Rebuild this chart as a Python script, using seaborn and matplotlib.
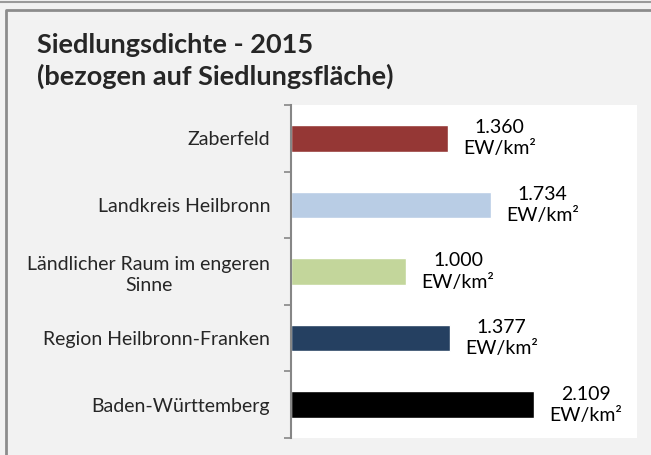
import matplotlib
matplotlib.use("Agg")
import matplotlib.pyplot as plt
from matplotlib.lines import Line2D
import seaborn as sns
import pandas as pd

categories = ['Zaberfeld', 'Landkreis Heilbronn', 'Ländlicher Raum im engeren\nSinne',
              'Region Heilbronn-Franken', 'Baden-Württemberg']
values = [1360, 1734, 1000, 1377, 2109]
value_labels = ['1.360', '1.734', '1.000', '1.377', '2.109']
colors = ['#953735', '#b9cde5', '#c3d69b', '#254061', '#000000']


def generate_barchart():
    sns.set_style("white")
    plt.rcParams['font.family'] = ['Lato', 'DejaVu Sans']

    df = pd.DataFrame({'Gebiet': categories, 'Dichte': values})

    fig = plt.figure(figsize=(6.51, 4.55), dpi=100)
    fig.patch.set_facecolor('#f2f2f2')
    ax = fig.add_axes([291 / 651, 1 - 438 / 455, (637 - 291) / 651, (438 - 105) / 455])

    sns.barplot(data=df, x='Dichte', y='Gebiet', hue='Gebiet', palette=colors,
                orient='h', width=0.4, legend=False, ax=ax, saturation=1)

    for i, (v, lab) in enumerate(zip(values, value_labels)):
        ax.annotate(lab + '\nEW/km²', xy=(v, i), xytext=(11, 0), textcoords='offset points',
                    ha='left', va='center', multialignment='center', fontsize=14,
                    linespacing=1.3, color='#000000')

    ax.set_xlim(0, 3000)
    ax.set_ylim(4.5, -0.5)
    ax.set_xlabel('')
    ax.set_ylabel('')
    ax.set_xticks([])
    ax.set_yticks(range(len(categories)))
    ax.set_yticklabels(categories, fontsize=14, multialignment='center', linespacing=1.3)
    ax.tick_params(axis='y', which='major', length=0, pad=15)
    ax.set_yticks([i - 0.5 for i in range(len(categories) + 1)], minor=True)
    ax.tick_params(axis='y', which='minor', left=True, length=5, width=1.2,
                   color='#868686', direction='out')
    for s in ['top', 'right', 'bottom']:
        ax.spines[s].set_visible(False)
    ax.spines['left'].set_color('#868686')
    ax.spines['left'].set_linewidth(1.5)

    # Rahmen
    fig.add_artist(Line2D([0, 1], [1 - 1.5 / 455, 1 - 1.5 / 455], color='#9a9a9a', lw=1.5))
    fig.add_artist(Line2D([6 / 651, 6 / 651, 1], [0, 1 - 10 / 455, 1 - 10 / 455], color='#8c8c8c', lw=2))

    fig.text(37 / 651, 1 - 33 / 455, 'Siedlungsdichte - 2015\n(bezogen auf Siedlungsfläche)',
             ha='left', va='top', fontsize=19.5, fontweight='bold', linespacing=1.3)

    fig.savefig('out.png', dpi=100, facecolor=fig.get_facecolor())
    plt.close(fig)


if __name__ == "__main__":
    generate_barchart()
